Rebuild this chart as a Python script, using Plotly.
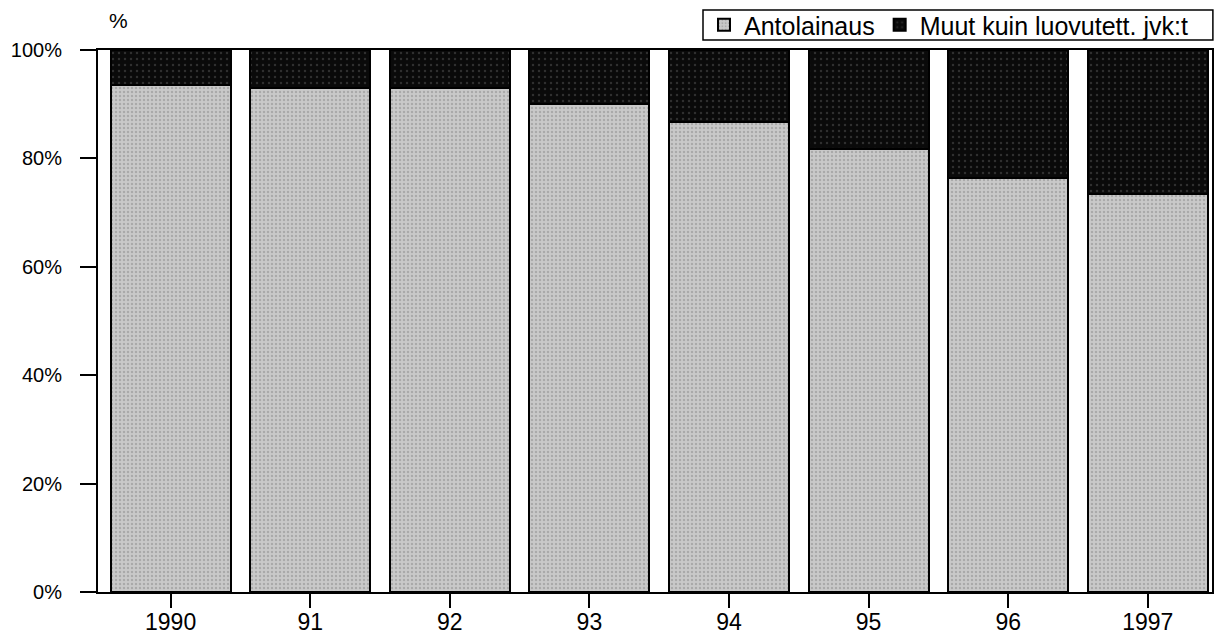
import plotly.graph_objects as go

years = ["1990", "91", "92", "93", "94", "95", "96", "1997"]
antolainaus = [93.5, 93.0, 92.9, 90.0, 86.7, 81.7, 76.4, 73.4]
muut = [round(100 - v, 1) for v in antolainaus]

xpos = list(range(len(years)))

fig = go.Figure()
fig.add_trace(go.Bar(
    x=xpos, y=antolainaus, name="Antolainaus",
    marker=dict(color="#bdbdbd", line=dict(color="black", width=2),
                pattern=dict(shape=".", fgcolor="#8a8a8a", bgcolor="#c9c9c9", size=4, solidity=0.3)),
    width=0.86,
))
fig.add_trace(go.Bar(
    x=xpos, y=muut, name="Muut kuin luovutett. jvk:t",
    marker=dict(color="#111111", line=dict(color="black", width=2),
                pattern=dict(shape=".", fgcolor="#555555", bgcolor="#0a0a0a", size=6, solidity=0.12)),
    width=0.86,
))

fig.update_layout(
    barmode="stack",
    width=1216, height=638,
    margin=dict(l=98, r=4, t=50, b=46, autoexpand=False),
    paper_bgcolor="white", plot_bgcolor="white",
    font=dict(family="Liberation Sans, Arial, sans-serif", size=20, color="black"),
    showlegend=True,
    legend=dict(orientation="h", xref="container", yref="container",
                x=(1213 - 20) / 1216, xanchor="right", y=1 - 25 / 638, yanchor="middle",
                borderwidth=0, bgcolor="rgba(0,0,0,0)",
                font=dict(size=25), traceorder="normal",
                itemsizing="constant", tracegroupgap=0, itemwidth=30),
    xaxis=dict(
        tickmode="array", tickvals=xpos, ticktext=years,
        range=[-0.52, 7.46],
        showline=True, linecolor="black", linewidth=2, mirror=True,
        ticks="outside", ticklen=14, tickwidth=1.5, tickcolor="black",
        showgrid=False, zeroline=False,
        tickfont=dict(size=23), ticklabelstandoff=-6,
    ),
    yaxis=dict(
        range=[0, 100], tickvals=[0, 20, 40, 60, 80, 100],
        ticktext=["0%", "20%", "40%", "60%", "80%", "100%"],
        showline=True, linecolor="black", linewidth=2, mirror=True,
        ticks="outside", ticklen=16, tickwidth=2, tickcolor="black",
        showgrid=False, zeroline=False,
        tickfont=dict(size=20), ticklabelstandoff=14,
    ),
    shapes=[dict(type="rect", xref="paper", yref="paper",
                 x0=(703 - 98) / 1114, x1=1.0008,
                 y0=1 + (50 - 40) / 542, y1=1 + (50 - 10) / 542,
                 line=dict(color="black", width=1.5), fillcolor="rgba(0,0,0,0)",
                 layer="above")],
    annotations=[dict(text="%", x=0.018, y=1.055, xref="paper", yref="paper",
                      xanchor="center", yanchor="middle", showarrow=False,
                      font=dict(size=21))],
)

fig.write_html("out.html", config={"displayModeBar": False},
               post_script="document.body.style.margin='0';document.body.style.overflow='hidden';")
